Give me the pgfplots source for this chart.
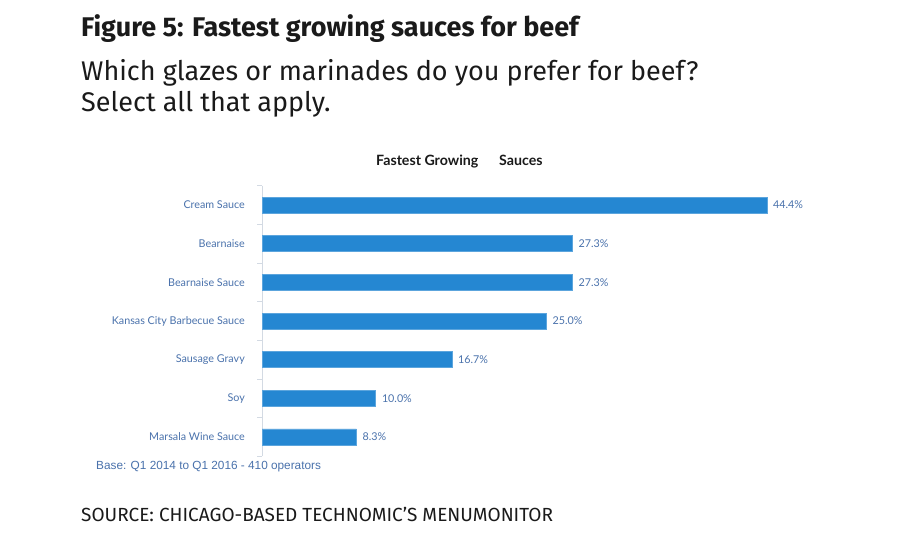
\documentclass[border=0pt]{standalone}
\usepackage{pgfplots}
\pgfplotsset{compat=1.18}
\usepackage{fontspec}
\setmainfont{Lato}
\newfontfamily\lato{Lato}
\newfontfamily\fira{Fira Sans}
\newfontfamily\arial{Liberation Sans}
\definecolor{barblue}{HTML}{2587D2}
\definecolor{lblblue}{HTML}{4A72AC}
\definecolor{axgray}{HTML}{D3DAE3}
\definecolor{ink}{HTML}{1A1A1A}
\begin{document}
\begin{tikzpicture}
\path[fill=white] (0pt,0pt) rectangle (900pt,550pt);
% titles
\node[anchor=base west,inner sep=0pt,text=ink] at (81pt,513.3pt) {\fontsize{27}{30}\selectfont\fira\bfseries Figure 5: Fastest growing sauces for beef};
\node[anchor=base west,inner sep=0pt,text=ink] at (81pt,469.6pt) {\fontsize{27}{30}\selectfont\fira Which glazes or marinades do you prefer for beef?};
\node[anchor=base west,inner sep=0pt,text=ink] at (81pt,438.6pt) {\fontsize{27}{30}\selectfont\fira Select all that apply.};
% chart title
\node[anchor=base west,inner sep=0pt,text=ink] at (376pt,384pt) {\fontsize{14.2}{16}\selectfont\lato\bfseries Fastest Growing};
\node[anchor=base west,inner sep=0pt,text=ink] at (499pt,384pt) {\fontsize{14.2}{16}\selectfont\lato\bfseries Sauces};
% base note
\node[anchor=base west,inner sep=0pt,text=lblblue] at (96pt,81pt) {\fontsize{11.8}{14}\selectfont\arial Base: Q1 2014 to Q1 2016 - 410 operators};
% source
\node[anchor=base west,inner sep=0pt,text=ink] at (81pt,28.3pt) {\fontsize{19}{22}\selectfont\fira SOURCE: CHICAGO-BASED TECHNOMIC’S MENUMONITOR};
\begin{axis}[
  at={(262pt,93.7pt)}, anchor=south west,
  scale only axis, width=568.5pt, height=270.6pt,
  xbar, bar width=16pt,
  xmin=0, xmax=50, ymin=-0.5, ymax=6.5,
  y dir=reverse,
  axis x line=none,
  axis y line*=left,
  y axis line style={draw=axgray, line width=0.8pt},
  ytick={0,...,6},
  yticklabels={Cream Sauce,Bearnaise,Bearnaise Sauce,Kansas City Barbecue Sauce,Sausage Gravy,Soy,Marsala Wine Sauce},
  minor ytick={-0.5,0.5,...,6.5},
  major tick length=0pt,
  minor tick length=5pt,
  tick align=outside,
  minor tick style={draw=axgray, line width=0.8pt},
  /pgf/number format/assume math mode=true,
  yticklabel style={font=\fontsize{10.75}{12}\selectfont\lato, text=lblblue, inner sep=0pt, xshift=-17pt},
  nodes near coords={\pgfmathprintnumber[fixed,fixed zerofill,precision=1,assume math mode=true]{\pgfplotspointmeta}\%},
  nodes near coords style={font=\fontsize{10.75}{12}\selectfont\lato, text=lblblue, anchor=west, inner sep=0pt, xshift=6pt},
  clip=false,
]
\addplot[fill=barblue, draw=barblue!75!white, line width=0.6pt] coordinates {
  (44.4,0) (27.3,1) (27.3,2) (25.0,3) (16.7,4) (10.0,5) (8.3,6)
};
\end{axis}
\end{tikzpicture}
\end{document}
